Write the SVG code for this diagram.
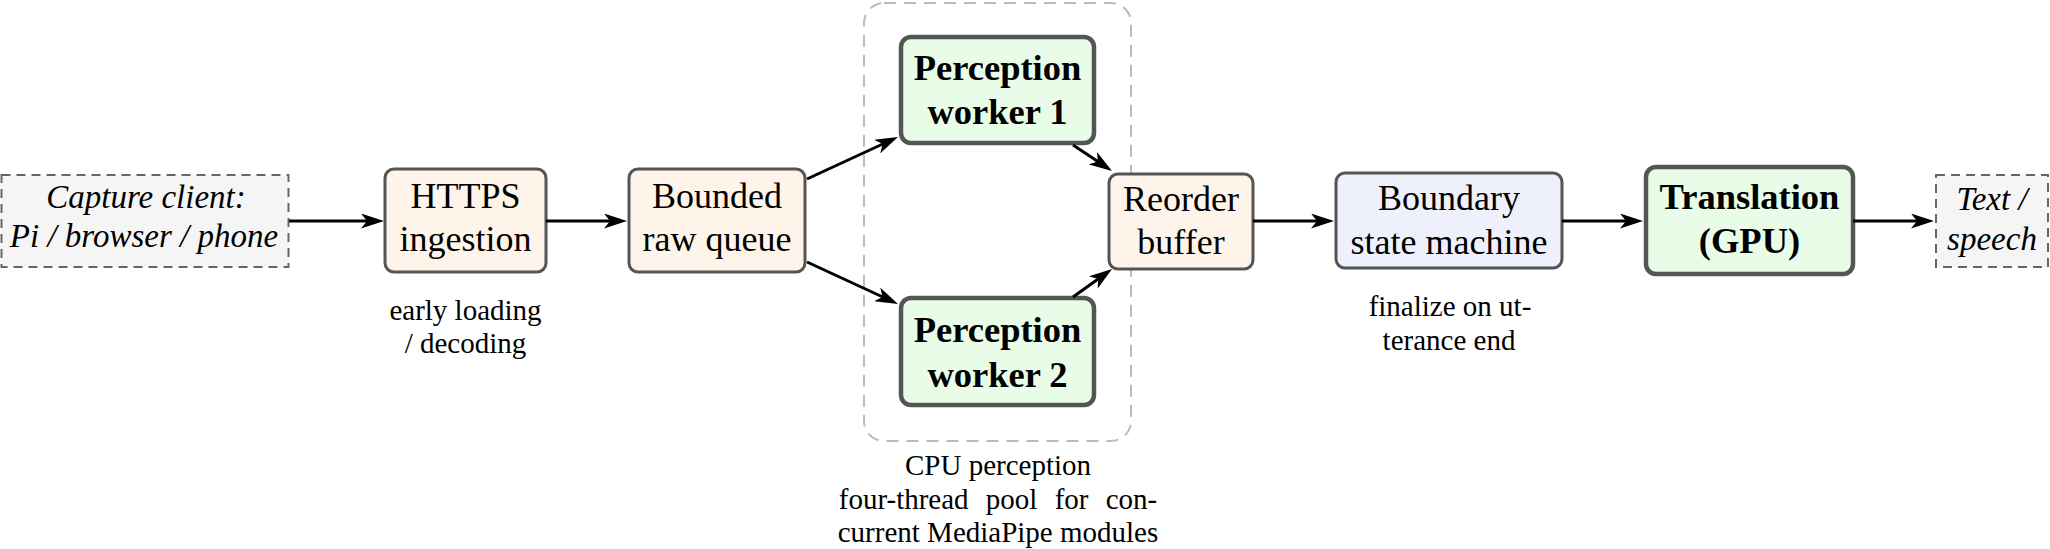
<svg xmlns="http://www.w3.org/2000/svg" width="2050" height="549" viewBox="0 0 2050 549">
<style>
.t{font-family:"Liberation Serif","Times New Roman",serif;font-size:36px;fill:#000;text-anchor:middle}
.b{font-weight:bold;font-size:36.5px}
.i{font-style:italic;font-size:33px}
.l{font-family:"Liberation Serif","Times New Roman",serif;font-size:29px;fill:#000;text-anchor:middle}
.io{fill:#f5f5f5;stroke:#666;stroke-width:2;stroke-dasharray:9,6}
.st{fill:#fef4ea;stroke:#555;stroke-width:3}
.sm{fill:#eef0fc;stroke:#555;stroke-width:3}
.hv{fill:#e8fce8;stroke:#555;stroke-width:4.5}
.grp{fill:none;stroke:#bbb;stroke-width:2;stroke-dasharray:12,8}
.e{fill:none;stroke:#000;stroke-width:3;marker-end:url(#ah)}
</style>
<defs>
<marker id="ah" markerUnits="userSpaceOnUse" markerWidth="23" markerHeight="15" refX="11" refY="7.5" orient="auto">
<path d="M0,0 L23,7.5 L0,15 L6,7.5 z" fill="#000"/>
</marker>
</defs>
<g id="cpu-pool">
<rect class="grp" x="864" y="3" width="267" height="438" rx="20"/>
<text class="l" x="998" y="475">CPU perception</text>
<text class="l" x="998" y="509" word-spacing="10">four-thread pool for con-</text>
<text class="l" x="998" y="542">current MediaPipe modules</text>
</g>
<g id="capture">
<rect class="io" x="1.5" y="175" width="287" height="92"/>
<text class="t i" x="146" y="208">Capture client:</text>
<text class="t i" x="144" y="247">Pi / browser / phone</text>
</g>
<g id="https">
<rect class="st" x="385" y="169" width="161" height="103" rx="9"/>
<text class="t" x="465.5" y="208">HTTPS</text>
<text class="t" x="465.5" y="251">ingestion</text>
<text class="l" x="465.5" y="320">early loading</text>
<text class="l" x="465.5" y="353">/ decoding</text>
</g>
<g id="queue">
<rect class="st" x="629" y="169" width="176" height="103" rx="9"/>
<text class="t" x="717" y="208">Bounded</text>
<text class="t" x="717" y="251">raw queue</text>
</g>
<g id="worker1">
<rect class="hv" x="901" y="37" width="193" height="106" rx="10"/>
<text class="t b" x="997.5" y="80">Perception</text>
<text class="t b" x="997.5" y="124">worker 1</text>
</g>
<g id="worker2">
<rect class="hv" x="901" y="298" width="193" height="107" rx="10"/>
<text class="t b" x="997.5" y="342">Perception</text>
<text class="t b" x="997.5" y="387">worker 2</text>
</g>
<g id="reorder">
<rect class="st" x="1109" y="174" width="144" height="95" rx="9"/>
<text class="t" x="1181" y="211">Reorder</text>
<text class="t" x="1181" y="254">buffer</text>
</g>
<g id="boundary">
<rect class="sm" x="1336" y="173" width="226" height="95" rx="9"/>
<text class="t" x="1449" y="210">Boundary</text>
<text class="t" x="1449" y="254">state machine</text>
<text class="l" x="1450" y="316">finalize on ut-</text>
<text class="l" x="1449" y="350">terance end</text>
</g>
<g id="translation">
<rect class="hv" x="1646" y="167" width="207" height="107" rx="10"/>
<text class="t b" x="1749.5" y="209">Translation</text>
<text class="t b" x="1749.5" y="253">(GPU)</text>
</g>
<g id="output">
<rect class="io" x="1936" y="175" width="112" height="92"/>
<text class="t i" x="1992" y="210">Text /</text>
<text class="t i" x="1992" y="250">speech</text>
</g>
<g id="connectors">
<line class="e" x1="289" y1="221" x2="372" y2="221"/>
<line class="e" x1="546" y1="221" x2="615" y2="221"/>
<line class="e" x1="807" y1="179" x2="887.1" y2="142"/>
<line class="e" x1="807" y1="262" x2="887.1" y2="299"/>
<line class="e" x1="1073" y1="145" x2="1102" y2="164.3"/>
<line class="e" x1="1073" y1="297" x2="1102.3" y2="276"/>
<line class="e" x1="1253" y1="221" x2="1322" y2="221"/>
<line class="e" x1="1562" y1="221" x2="1631" y2="221"/>
<line class="e" x1="1853" y1="221" x2="1922" y2="221"/>
</g>
</svg>
